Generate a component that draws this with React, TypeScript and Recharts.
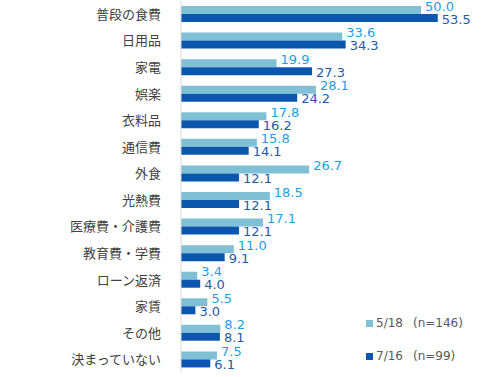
import { BarChart, Bar, XAxis, YAxis, LabelList } from "recharts";

const categories = [
  "普段の食費",
  "日用品",
  "家電",
  "娯楽",
  "衣料品",
  "通信費",
  "外食",
  "光熱費",
  "医療費・介護費",
  "教育費・学費",
  "ローン返済",
  "家賃",
  "その他",
  "決まっていない",
];
const may18 = [50.0, 33.6, 19.9, 28.1, 17.8, 15.8, 26.7, 18.5, 17.1, 11.0, 3.4, 5.5, 8.2, 7.5];
const jul16 = [53.5, 34.3, 27.3, 24.2, 16.2, 14.1, 12.1, 12.1, 12.1, 9.1, 4.0, 3.0, 8.1, 6.1];

const seriesNames = ["5/18", "7/16"];
const seriesN = ["(n=146)", "(n=99)"];

const LIGHT = "#7fc0d5";
const DARK = "#0b57b0";
const LIGHT_TEXT = "#1ba0e2";
const DARK_TEXT = "#1f5aa3";

const chartData = categories.map((name, i) => ({ name, may: may18[i], jul: jul16[i] }));

function makeLabel(color: string, dy: number) {
  return (props: any) => {
    const { x, y, width, height, value } = props;
    return (
      <text
        x={Number(x) + Number(width) + 4}
        y={Number(y) + Number(height) / 2 + dy}
        fill={color}
        fontSize={13}
        fontFamily="DejaVu Sans"
        dominantBaseline="central"
      >
        {Number(value).toFixed(1)}
      </text>
    );
  };
}

function LegendBox() {
  const colors = [LIGHT, DARK];
  return (
    <div
      style={{
        position: "absolute",
        left: 366,
        top: 315,
        fontFamily: "DejaVu Sans",
        fontSize: 12,
        color: "#595959",
      }}
    >
      {seriesNames.map((s, i) => (
        <div key={s} style={{ display: "flex", alignItems: "center", height: 16, marginBottom: i === 0 ? 17 : 0 }}>
          <span style={{ width: 7, height: 7, background: colors[i], display: "inline-block", marginRight: 3 }} />
          <span>{s}</span>
          <span style={{ marginLeft: 10 }}>{seriesN[i]}</span>
        </div>
      ))}
    </div>
  );
}

export default function App() {
  return (
    <div style={{ position: "relative", width: 500, height: 377, background: "#fff" }}>
      <style>{`body{margin:0}`}</style>
      <BarChart
        width={500}
        height={377}
        data={chartData}
        layout="vertical"
        margin={{ top: 1, right: 31, bottom: 4, left: 0 }}
        barGap={0}
        barSize={8}
      >
        <XAxis type="number" domain={[0, 60]} hide />
        <YAxis
          type="category"
          dataKey="name"
          width={181}
          tickLine={false}
          axisLine={{ stroke: "#d9d9d9" }}
          tickMargin={14}
          interval={0}
          tick={{ fill: "#404040", fontSize: 13, fontFamily: "Noto Sans CJK JP" }}
        />
        <Bar dataKey="may" fill={LIGHT} isAnimationActive={false}>
          <LabelList dataKey="may" content={makeLabel(LIGHT_TEXT, -4)} />
        </Bar>
        <Bar dataKey="jul" fill={DARK} isAnimationActive={false}>
          <LabelList dataKey="jul" content={makeLabel(DARK_TEXT, 1)} />
        </Bar>
      </BarChart>
      <LegendBox />
    </div>
  );
}
